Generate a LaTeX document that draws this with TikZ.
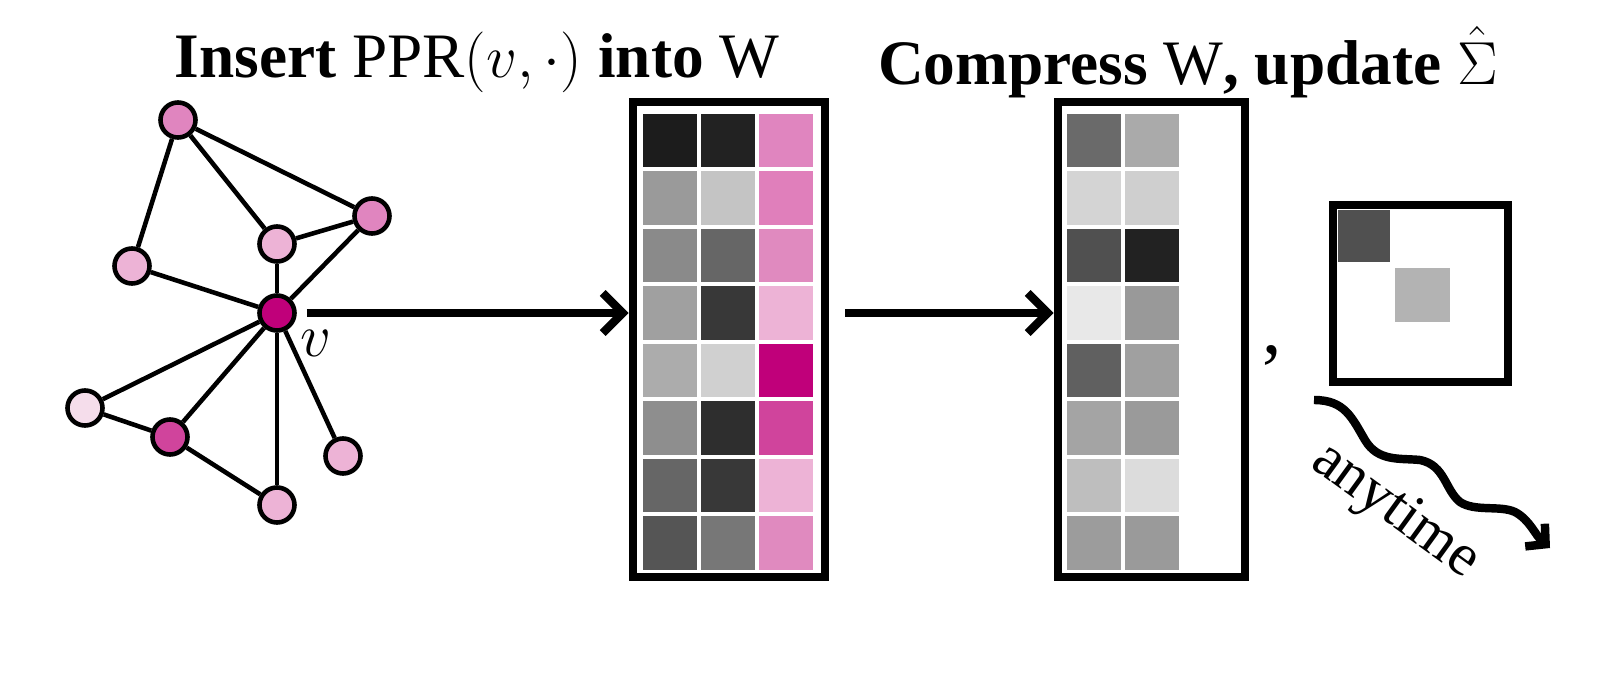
\documentclass[border=0pt]{standalone}
\usepackage{tikz}
\usepackage{fontspec}
\setmainfont{Liberation Serif}
\usetikzlibrary{arrows.meta}
\begin{document}
\begin{tikzpicture}[x=0.01cm,y=-0.01cm,
  vx/.style={circle,draw,line width=1.3pt,minimum size=0.35cm,inner sep=0pt},
  ed/.style={line width=1.3pt},
  big/.style={line width=2.4pt,-{Straight Barb[length=0.2cm,width=0.4cm,line width=2.4pt]}},
  frame/.style={line width=2.4pt},
  cell/.style={minimum width=0.54cm,minimum height=0.535cm,inner sep=0pt,draw=none}]
\definecolor{pk1}{HTML}{E085BF}\definecolor{pk2}{HTML}{EDB3D6}
\definecolor{pk3}{HTML}{C0007A}\definecolor{pk4}{HTML}{D0449C}\definecolor{pk5}{HTML}{F5DDEB}
\node[font=\fontsize{18}{22}\selectfont] (t1) at (477,62) {\textbf{Insert} PPR$(v,\cdot)$ \textbf{into} W};
\node[font=\fontsize{18}{22}\selectfont] (t2) at (1188,62) {\textbf{Compress} W\textbf{, update} $\hat{\Sigma}$};
% graph
\node[vx,fill=pk1] (a) at (178,120) {};
\node[vx,fill=pk2] (b) at (132,266) {};
\node[vx,fill=pk2] (c) at (277,244) {};
\node[vx,fill=pk1] (d) at (372,216) {};
\node[vx,fill=pk3] (v) at (277,313) {};
\node[vx,fill=pk5] (e) at (85,408) {};
\node[vx,fill=pk4] (f) at (170,437) {};
\node[vx,fill=pk2] (g) at (343,456) {};
\node[vx,fill=pk2] (h) at (277,505) {};
\node[font=\fontsize{19}{22}\selectfont] (vl) at (316,343) {$v$};
\foreach \p/\q in {a/b,a/c,a/d,c/d,c/v,b/v,d/v,v/e,v/f,v/g,v/h,e/f,f/h}
  \draw[ed] (\p) -- (\q);
% matrix 1
\node[draw,frame,minimum width=1.92cm,minimum height=4.75cm,inner sep=0pt] (m1) at (729,339.5) {};
\foreach \r/\ca/\cb [count=\i] in {
 1C1C1C/222222/E085BF, 9A9A9A/C4C4C4/E07FBB, 8A8A8A/666666/E08ABF, A0A0A0/383838/EDB3D6,
 ACACAC/D0D0D0/C0007A, 8E8E8E/2E2E2E/D0449C, 666666/383838/EDB3D6, 555555/777777/E08ABF}{
 \definecolor{ta}{HTML}{\r}\definecolor{tb}{HTML}{\ca}\definecolor{tc}{HTML}{\cb}
 \node[cell,fill=ta] (m1a\i) at (670,83+57.5*\i) {};
 \node[cell,fill=tb] (m1b\i) at (728,83+57.5*\i) {};
 \node[cell,fill=tc] (m1c\i) at (786,83+57.5*\i) {};
}
% matrix 2
\node[draw,frame,minimum width=1.87cm,minimum height=4.75cm,inner sep=0pt] (m2) at (1151.5,339.5) {};
\foreach \r/\ca [count=\i] in {
 6A6A6A/AAAAAA, D4D4D4/CFCFCF, 505050/222222, E8E8E8/999999,
 606060/A0A0A0, A4A4A4/9A9A9A, BEBEBE/DCDCDC, 9C9C9C/9A9A9A}{
 \definecolor{ta}{HTML}{\r}\definecolor{tb}{HTML}{\ca}
 \node[cell,fill=ta] (m2a\i) at (1094,83+57.5*\i) {};
 \node[cell,fill=tb] (m2b\i) at (1152,83+57.5*\i) {};
}
\draw[big] ([xshift=0.1cm]v.east) -- (m1.west |- v.east);
\coordinate (s2) at (845,313);
\draw[big] (s2) -- (m2.west |- s2);
\node[font=\fontsize{22}{22}\selectfont] (cm) at (1272,355) {,};
% sigma
\node[draw,frame,minimum width=1.75cm,minimum height=1.77cm,inner sep=0pt] (sg) at (1420.5,293.5) {};
\fill[fill={rgb,255:red,80;green,80;blue,80}] (1338,210) rectangle (1390,262);
\fill[fill={rgb,255:red,179;green,179;blue,179}] (1395,268) rectangle (1450,322);
% squiggle
\coordinate (q0) at (1314,400);
\coordinate (q1) at (1550,548);
\draw[line width=2.4pt,-{Straight Barb[length=0.14cm,width=0.3cm,line width=2.4pt]}]
  (q0) .. controls (1345,400) and (1352,418) .. (1365,440)
  .. controls (1378,462) and (1400,458) .. (1420,460)
  .. controls (1445,465) and (1445,490) .. (1460,502)
  .. controls (1475,512) and (1500,505) .. (1515,512)
  .. controls (1530,520) and (1535,535) .. (q1);
\node[rotate=-36,font=\fontsize{17}{20}\selectfont] (at) at (1395,512) {anytime};
\pgfresetboundingbox
\useasboundingbox (0,0) rectangle (1602,700);
\end{tikzpicture}
\end{document}
